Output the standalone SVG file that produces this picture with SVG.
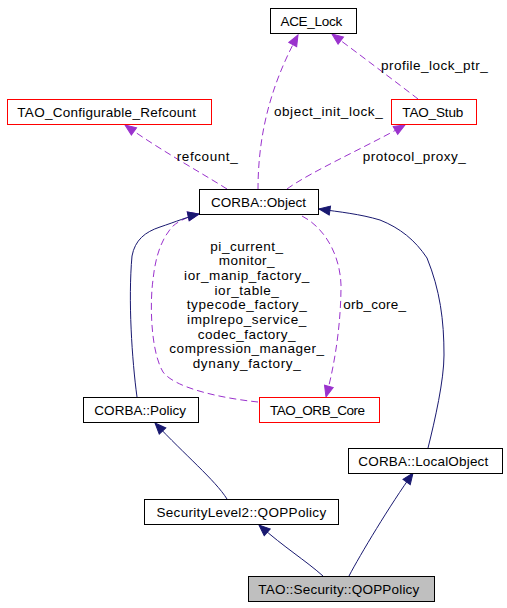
<svg xmlns="http://www.w3.org/2000/svg" width="507" height="608" viewBox="0 0 507 608">
<style>
.node rect{fill:#ffffff;stroke:#000000;stroke-width:1}
.node.red rect{stroke:#ff0000}
.node.cur rect{fill:#bfbfbf}
text{font-family:"Liberation Sans",Arial,sans-serif;font-size:13.5px;fill:#000000;text-anchor:middle}
.e{fill:none;stroke-width:1}
.inh{stroke:#191970;marker-end:url(#aNavy)}
.use{stroke:#9a32cd;stroke-dasharray:7,4;marker-end:url(#aPurple)}
</style>
<defs>
<marker id="aNavy" markerUnits="userSpaceOnUse" markerWidth="12" markerHeight="10" refX="11" refY="5" orient="auto" overflow="visible">
<polygon points="0,0.5 11,5 0,9.5" fill="#191970" stroke="#191970" stroke-width="1"/>
</marker>
<marker id="aPurple" markerUnits="userSpaceOnUse" markerWidth="12" markerHeight="10" refX="11" refY="5" orient="auto" overflow="visible">
<polygon points="0,0.5 11,5 0,9.5" fill="#9a32cd" stroke="#9a32cd" stroke-width="1"/>
</marker>
</defs>
<rect x="0" y="0" width="507" height="608" fill="#ffffff"/>
<g id="connectors">
<path class="e use" d="M258,190 C258,140 268,90 298,35"/>
<path class="e use" d="M418,99 C400,85 360,55 332,34"/>
<path class="e use" d="M227,189 C200,172 160,150 125,125"/>
<path class="e use" d="M287,189 C310,172 370,145 405,125"/>
<path class="e use" d="M302,216 C325,228 340,255 341,285 C341,320 336,360 326,397"/>
<path class="e use" d="M258,402 C220,398 175,388 163,372 C150,350 150,300 153,280 C155,260 160,240 173,226 C180,220 190,216 199,214"/>
<path class="e inh" d="M137,397 C132,360 128,300 132,256 C135,240 145,232 160,227 C175,222 190,216 199,214"/>
<path class="e inh" d="M428,448 C435,420 444,380 444,355 C444,320 440,290 427,258 C415,240 400,228 380,220 C360,214 340,212 319,209"/>
<path class="e inh" d="M227,499 C215,480 185,455 155,423"/>
<path class="e inh" d="M323,576 C305,560 285,548 259,525"/>
<path class="e inh" d="M349,576 C360,555 390,505 413,473"/>
<text x="434.3" y="69.5" textLength="106.7" lengthAdjust="spacing">profile_lock_ptr_</text>
<text x="328.3" y="115.5" textLength="108.7" lengthAdjust="spacing">object_init_lock_</text>
<text x="207.2" y="160.5" textLength="61" lengthAdjust="spacing">refcount_</text>
<text x="414.2" y="160.5" textLength="103" lengthAdjust="spacing">protocol_proxy_</text>
<text x="374.7" y="308.5" textLength="62.7" lengthAdjust="spacing">orb_core_</text>
<text x="246.7" y="250.7" textLength="72.7" lengthAdjust="spacing">pi_current_</text>
<text x="246.7" y="265.4" textLength="55.7" lengthAdjust="spacing">monitor_</text>
<text x="246.7" y="280.0" textLength="125.3" lengthAdjust="spacing">ior_manip_factory_</text>
<text x="246.7" y="294.7" textLength="64.3" lengthAdjust="spacing">ior_table_</text>
<text x="246.7" y="309.4" textLength="120" lengthAdjust="spacing">typecode_factory_</text>
<text x="246.7" y="324.0" textLength="119.3" lengthAdjust="spacing">implrepo_service_</text>
<text x="246.7" y="338.7" textLength="97.7" lengthAdjust="spacing">codec_factory_</text>
<text x="246.7" y="353.4" textLength="154.7" lengthAdjust="spacing">compression_manager_</text>
<text x="246.7" y="368.0" textLength="108" lengthAdjust="spacing">dynany_factory_</text>
</g>
<g id="ACE_Lock" class="node">
<rect x="270.5" y="8.5" width="86" height="25"/>
<text x="311.3" y="25.8" textLength="61.7" lengthAdjust="spacing">ACE_Lock</text>
</g>
<g id="TAO_Configurable_Refcount" class="node red">
<rect x="7.5" y="99.5" width="204" height="25"/>
<text x="106.7" y="116.8" textLength="178.7" lengthAdjust="spacing">TAO_Configurable_Refcount</text>
</g>
<g id="TAO_Stub" class="node red">
<rect x="391.5" y="99.5" width="85" height="25"/>
<text x="432.8" y="116.8" textLength="61" lengthAdjust="spacing">TAO_Stub</text>
</g>
<g id="CORBA_Object" class="node">
<rect x="199.5" y="189.5" width="119" height="25"/>
<text x="258.5" y="206.8" textLength="95" lengthAdjust="spacing">CORBA::Object</text>
</g>
<g id="CORBA_Policy" class="node">
<rect x="83.5" y="397.5" width="115" height="25"/>
<text x="140.2" y="415.3" textLength="91.7" lengthAdjust="spacing">CORBA::Policy</text>
</g>
<g id="TAO_ORB_Core" class="node red">
<rect x="259.5" y="397.5" width="120" height="25"/>
<text x="317.5" y="415.3" textLength="95" lengthAdjust="spacing">TAO_ORB_Core</text>
</g>
<g id="CORBA_LocalObject" class="node">
<rect x="348.5" y="448.5" width="154" height="25"/>
<text x="423.3" y="465.8" textLength="130" lengthAdjust="spacing">CORBA::LocalObject</text>
</g>
<g id="SecurityLevel2_QOPPolicy" class="node">
<rect x="144.5" y="499.5" width="194" height="25"/>
<text x="241.3" y="516.8" textLength="169.7" lengthAdjust="spacing">SecurityLevel2::QOPPolicy</text>
</g>
<g id="TAO_Security_QOPPolicy" class="node cur">
<rect x="248.5" y="576.5" width="186" height="25"/>
<text x="338.8" y="593.8" textLength="161" lengthAdjust="spacing">TAO::Security::QOPPolicy</text>
</g>
</svg>
